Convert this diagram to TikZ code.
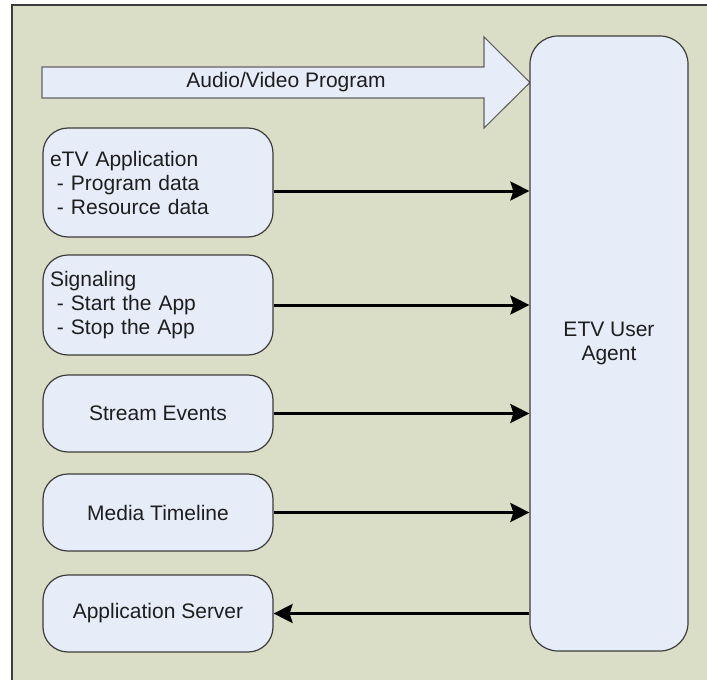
\documentclass[tikz,border=0pt]{standalone}
\usepackage{fontspec}
\setmainfont{Liberation Sans}
\usetikzlibrary{arrows.meta}
\definecolor{bgolive}{RGB}{219,222,198}
\definecolor{boxfill}{RGB}{230,236,248}
\definecolor{boxline}{RGB}{60,60,60}
\definecolor{txt}{RGB}{30,30,30}
\tikzset{
  sbox/.style={draw=boxline, line width=1.2pt, fill=boxfill, rounded corners=25pt,
    minimum width=230pt, text=txt, font=\fontsize{21}{24}\selectfont, inner sep=0pt},
  lbox/.style={sbox, align=left, text width=216pt},
  cbox/.style={sbox, align=center, minimum height=77pt},
  arr/.style={line width=3pt, draw=black, -{Stealth[length=19pt,width=19pt,inset=3pt]}},
}
\begin{document}
\begin{tikzpicture}[x=1pt,y=-1pt]
\useasboundingbox (0,0) rectangle (707,680);
\fill[bgolive] (12,5) rectangle (707,680);
\draw[boxline, line width=1.5pt] (12,680) -- (12,5) -- (707,5);
% big arrow
\filldraw[fill=boxfill, draw=boxline!80, line width=1.1pt]
  (42,67) -- (484,67) -- (484,37) -- (530,82.5) -- (484,128) -- (484,98) -- (42,98) -- cycle;
\node[text=txt, font=\fontsize{21}{24}\selectfont, inner sep=0pt] (av) at (286,82) {Audio/Video Program};
% agent
\node[draw=boxline, line width=1.2pt, fill=boxfill, rounded corners=28pt,
  minimum width=158pt, minimum height=615pt, inner sep=0pt, align=center,
  text=txt, font=\fontsize{21}{24}\selectfont] (agent) at (609,343.5) {ETV User\\Agent};
% left boxes
\node[lbox, minimum height=109pt] (etv) at (158,182.5) {eTV Application\\\ - Program data\\\ - Resource data};
\node[lbox, minimum height=100pt] (sig) at (158,305) {Signaling\\\ - Start the App\\\ - Stop the App};
\node[cbox] (stream) at (158,413.5) {Stream Events};
\node[cbox] (media) at (158,512.5) {Media Timeline};
\node[cbox] (server) at (158,613.5) {Application Server};
% connectors
\draw[arr] ([yshift=-8.5pt]etv.east) -- ([yshift=-8.5pt]agent.west |- etv.east);
\draw[arr] (sig.east) -- (agent.west |- sig.east);
\draw[arr] (stream.east) -- (agent.west |- stream.east);
\draw[arr] (media.east) -- (agent.west |- media.east);
\draw[arr] (agent.west |- server.east) -- (server.east);
\end{tikzpicture}
\end{document}
